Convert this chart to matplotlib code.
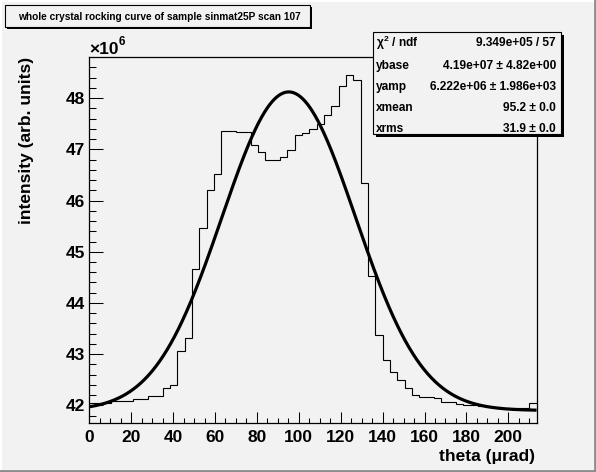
import numpy as np
import matplotlib
matplotlib.use("Agg")
import matplotlib.pyplot as plt
from matplotlib.patches import Rectangle
from matplotlib.lines import Line2D

# ---------------- data ----------------
bin_width = 3.5  # micro-rad
counts_1e6 = [42.05, 42.05, 42.05, 42.08, 42.08, 42.08, 42.12, 42.12, 42.19, 42.19,
              42.34, 42.39, 43.06, 43.32, 44.66, 45.47, 46.21, 46.51, 47.36, 47.35,
              47.33, 47.33, 47.08, 46.95, 46.80, 46.80, 46.86, 46.99, 47.29, 47.32,
              47.39, 47.50, 47.68, 47.84, 48.23, 48.46, 48.36, 46.34, 44.53, 43.37,
              42.88, 42.66, 42.49, 42.34, 42.21, 42.17, 42.17, 42.15, 42.07, 42.07,
              42.02, 42.01, 42.00, 41.98, 41.97, 41.96, 41.95, 41.94, 41.94, 41.94,
              42.04]
# fit parameters (from stats box)
ybase = 4.19e7
yamp = 6.222e6
xmean = 95.2
xrms = 31.9
stat_labels = [r"$\chi^{2}$ / ndf", "ybase", "yamp", "xmean", "xrms"]
stat_values = ["9.349e+05 / 57", "4.19e+07 \u00b1 4.82e+00", "6.222e+06 \u00b1 1.986e+03",
               "95.2 \u00b1 0.0", "31.9 \u00b1 0.0"]
x_ticks = [0, 20, 40, 60, 80, 100, 120, 140, 160, 180, 200]
y_ticks = [42, 43, 44, 45, 46, 47, 48]
title = "whole crystal rocking curve of sample sinmat25P scan 107"
xlabel = "theta (\u03bcrad)"
ylabel = "intensity (arb. units)"

# ---------------- figure ----------------
W, H = 596, 472
BG = "#f2f2f2"
plt.rcParams["font.family"] = ["Liberation Sans", "DejaVu Sans"]
plt.rcParams["font.weight"] = "bold"
plt.rcParams["mathtext.fontset"] = "custom"
plt.rcParams["mathtext.rm"] = "Liberation Sans:bold"
plt.rcParams["mathtext.it"] = "Liberation Sans:bold"
plt.rcParams["mathtext.bf"] = "Liberation Sans:bold"

fig = plt.figure(figsize=(W / 100, H / 100), dpi=100, facecolor=BG)


def fx(x):
    return x / W


def fy(y):
    return 1 - y / H


L, T, R, B = 89.3, 56.7, 536.6, 423.3
ax = fig.add_axes([fx(L), fy(B), (R - L) / W, (B - T) / H], facecolor=BG)

edges = np.arange(len(counts_1e6) + 1) * bin_width
ax.stairs(counts_1e6, edges, color="black", linewidth=0.8, baseline=None)

xs = np.linspace(edges[0], edges[-1], 600)
fit = (ybase + yamp * np.exp(-0.5 * ((xs - xmean) / xrms) ** 2)) / 1e6
ax.plot(xs, fit, color="black", linewidth=2.3, solid_capstyle="butt")

ax.set_xlim(edges[0], edges[-1])
ax.set_ylim(41.65, 48.81)
ax.set_xticks(x_ticks)
ax.set_xticklabels([str(v) for v in x_ticks])
ax.set_yticks(y_ticks)
ax.set_yticklabels([str(v) for v in y_ticks])
ax.set_xticks(np.arange(0, 214, 5), minor=True)
ax.set_yticks(np.arange(41.8, 48.81, 0.2), minor=True)
ax.tick_params(axis="x", which="major", direction="in", length=7.6, width=0.75,
               labelsize=12.5, pad=5, top=False)
ax.tick_params(axis="x", which="minor", direction="in", length=3.6, width=0.75, top=False)
ax.tick_params(axis="y", which="major", direction="in", length=10.3, width=0.75,
               labelsize=12.5, pad=3, right=False)
ax.tick_params(axis="y", which="minor", direction="in", length=5.3, width=0.75, right=False)
for lab in ax.get_xticklabels() + ax.get_yticklabels():
    lab.set_fontweight("bold")
for s in ax.spines.values():
    s.set_linewidth(0.9)
    s.set_color("black")

# axis titles
fig.text(fx(535), fy(456), xlabel, ha="right", va="center", fontsize=12.5, fontweight="bold")
fig.text(fx(26.5), fy(57), ylabel, ha="center", va="top", rotation=90,
         fontsize=12.5, fontweight="bold")
fig.text(fx(89), fy(49), "\u00d710", ha="left", va="center", fontsize=12.5, fontweight="bold")
fig.text(fx(118.5), fy(42), "6", ha="left", va="center", fontsize=8.5, fontweight="bold")

# title box
def box(x0, y0, x1, y1, shadow=2.5):
    fig.patches.append(Rectangle((fx(x0 + shadow), fy(y1 + shadow)), (x1 - x0) / W,
                                 (y1 - y0) / H, transform=fig.transFigure,
                                 facecolor="black", edgecolor="none", zorder=5))
    fig.patches.append(Rectangle((fx(x0), fy(y1)), (x1 - x0) / W, (y1 - y0) / H,
                                 transform=fig.transFigure, facecolor=BG,
                                 edgecolor="black", linewidth=0.8, zorder=6))

box(5, 5, 310, 26.5, shadow=2)
fig.text(fx(159), fy(16.5), title, ha="center", va="center", fontsize=7.3,
         fontweight="bold", zorder=7)

# stats box
box(373, 32, 561, 134, shadow=2.5)
rows_y = [43, 66, 87, 108, 129]
for lab, val, yy in zip(stat_labels, stat_values, rows_y):
    fig.text(fx(376), fy(yy), lab, ha="left", va="center", fontsize=8.6,
             fontweight="bold", zorder=7)
    fig.text(fx(556), fy(yy), val, ha="right", va="center", fontsize=8.6,
             fontweight="bold", zorder=7)

# canvas bevel
fig.lines.append(Line2D([fx(0), fx(W)], [fy(1), fy(1)], transform=fig.transFigure,
                        color="white", linewidth=1.5))
fig.lines.append(Line2D([fx(1), fx(1)], [fy(0), fy(H)], transform=fig.transFigure,
                        color="white", linewidth=1.5))
fig.lines.append(Line2D([fx(0), fx(W)], [fy(H - 1.2), fy(H - 1.2)], transform=fig.transFigure,
                        color="#8c8c8c", linewidth=2))
fig.lines.append(Line2D([fx(W - 1.2), fx(W - 1.2)], [fy(0), fy(H)], transform=fig.transFigure,
                        color="#8c8c8c", linewidth=2))

fig.savefig("out.png", dpi=100, facecolor=BG)
